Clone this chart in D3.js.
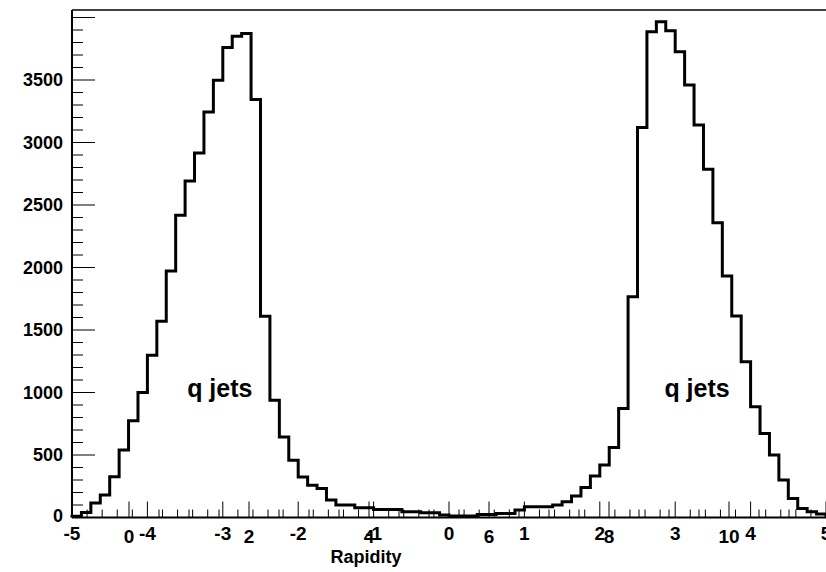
<!DOCTYPE html>
<html>
<head>
<meta charset="utf-8">
<script src="https://cdn.jsdelivr.net/npm/d3@7"></script>
<style>
  body { margin: 0; background: #fff; }
  text { font-family: "Liberation Sans", Arial, sans-serif; font-weight: bold; }
</style>
</head>
<body>
<script>
// Rapidity histogram, 80 bins from -5 to 5
const binLow = -5, binHigh = 5;
const counts = [
  10, 40, 116, 180, 327, 540, 775, 1000, 1299, 1571,
  1973, 2419, 2693, 2917, 3245, 3499, 3760, 3851, 3872, 3344,
  1611, 939, 645, 459, 325, 259, 232, 140, 100, 100,
  79, 79, 65, 65, 65, 47, 47, 39, 39, 20,
  12, 12, 12, 25, 25, 33, 33, 60, 87, 87,
  87, 100, 127, 172, 241, 332, 420, 561, 873, 1767,
  3121, 3887, 3967, 3895, 3727, 3460, 3140, 2786, 2359, 1932,
  1612, 1247, 887, 673, 500, 300, 153, 73, 47, 28
];
const yTicks = [0, 500, 1000, 1500, 2000, 2500, 3000, 3500];
const xTicks = [-5, -4, -3, -2, -1, 0, 1, 2, 3, 4, 5];
const x2Ticks = [0, 2, 4, 6, 8, 10];
const labels = [{ text: "q jets", x: -3.04 }, { text: "q jets", x: 3.29 }];

const W = 826, H = 572;
const m = { left: 72, right: 826, top: 10, bottom: 517.5 };

const svg = d3.select("body").append("svg").attr("width", W).attr("height", H);

const x = d3.scaleLinear().domain([binLow, binHigh]).range([m.left, m.right]);
const x2 = d3.scaleLinear().domain([0, 10]).range([129, 729]);
const y = d3.scaleLinear().domain([0, 4060]).range([m.bottom, m.top]);

const bw = (binHigh - binLow) / counts.length;

// frame top line
svg.append("line").attr("x1", m.left).attr("x2", m.right).attr("y1", m.top).attr("y2", m.top)
  .attr("stroke", "#000").attr("stroke-width", 1.5);

// y minor & major ticks
d3.range(0, 4060, 100).forEach(v => {
  const major = v % 500 === 0;
  svg.append("line").attr("x1", m.left).attr("x2", m.left + (major ? 23 : 11))
    .attr("y1", y(v)).attr("y2", y(v)).attr("stroke", "#000").attr("stroke-width", 1);
});
// x ticks (primary)
d3.range(-5, 5.001, 0.2).forEach(v => {
  const major = Math.abs(v - Math.round(v)) < 1e-6;
  svg.append("line").attr("x1", x(v)).attr("x2", x(v))
    .attr("y1", m.bottom).attr("y2", m.bottom - (major ? 16 : 8)).attr("stroke", "#000");
});
// x ticks (secondary)
d3.range(0, 11.5, 0.5).forEach(v => {
  const major = v % 2 === 0;
  if (x2(v) > m.right) return;
  svg.append("line").attr("x1", x2(v)).attr("x2", x2(v))
    .attr("y1", m.bottom).attr("y2", m.bottom - (major ? 16 : 8)).attr("stroke", "#000");
});

// histogram step line
let d = `M${x(binLow)},${y(0)}`;
counts.forEach((c, i) => {
  d += `L${x(binLow + i * bw)},${y(c)}L${x(binLow + (i + 1) * bw)},${y(c)}`;
});
d += `L${x(binHigh)},${y(0)}`;
svg.append("path").attr("d", d).attr("fill", "none")
  .attr("stroke", "#000").attr("stroke-width", 3).attr("stroke-linejoin", "miter");

// axes lines
svg.append("line").attr("x1", m.left).attr("x2", m.left).attr("y1", m.top).attr("y2", m.bottom)
  .attr("stroke", "#000").attr("stroke-width", 2);
svg.append("line").attr("x1", m.left).attr("x2", m.right).attr("y1", m.bottom).attr("y2", m.bottom)
  .attr("stroke", "#000").attr("stroke-width", 2);

// y labels
svg.selectAll(".yl").data(yTicks).enter().append("text")
  .attr("x", 63).attr("y", v => v === 0 ? y(v) - 2 : y(v))
  .attr("dy", "0.36em").attr("text-anchor", "end").attr("font-size", 18)
  .text(d => d);

// x labels
svg.selectAll(".xl").data(xTicks).enter().append("text")
  .attr("x", v => x(v)).attr("y", 540).attr("text-anchor", "middle").attr("font-size", 19)
  .text(d => d);
svg.selectAll(".xl2").data(x2Ticks).enter().append("text")
  .attr("x", v => x2(v)).attr("y", 543).attr("text-anchor", "middle").attr("font-size", 19)
  .text(d => d);

svg.append("text").attr("x", 366).attr("y", 563).attr("text-anchor", "middle")
  .attr("font-size", 18).text("Rapidity");

svg.selectAll(".lab").data(labels).enter().append("text")
  .attr("x", d => x(d.x)).attr("y", 397).attr("text-anchor", "middle")
  .attr("font-size", 25).text(d => d.text);
</script>
</body>
</html>
